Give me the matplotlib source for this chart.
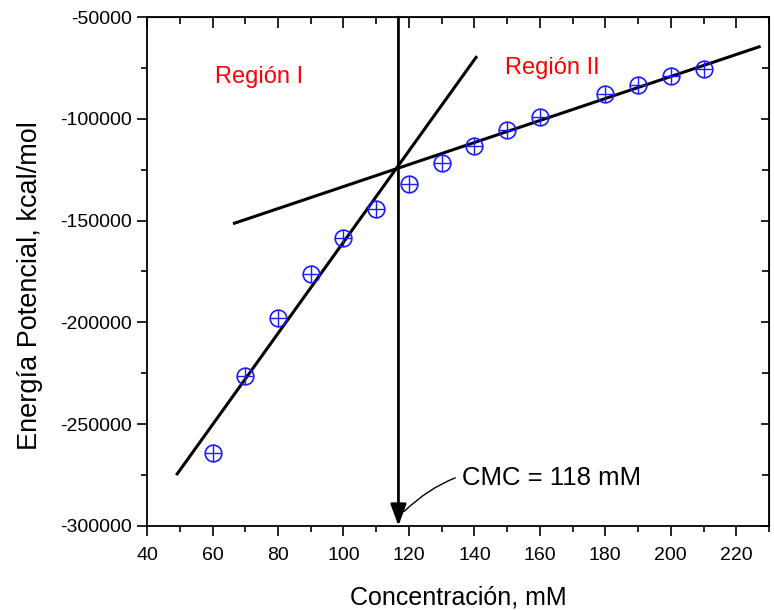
import matplotlib
matplotlib.use("Agg")
import matplotlib.pyplot as plt
from matplotlib.ticker import MultipleLocator

plt.rcParams['font.family'] = ['Liberation Sans', 'DejaVu Sans']
plt.rcParams['axes.unicode_minus'] = False

# data
conc = [60, 70, 80, 90, 100, 110, 120, 130, 140, 150, 160, 180, 190, 200, 210]
energy = [-264000, -226300, -197700, -176200, -158400, -144300, -132000, -121900,
          -113200, -105700, -99000, -87700, -83300, -78800, -75500]

# fitted lines (end points)
fit1_x = [49.2, 140.5]
fit1_y = [-274500, -69800]
fit2_x = [66.7, 227.0]
fit2_y = [-151300, -64600]

cmc_x = 116.8
cmc_label = "CMC = 118 mM"

XLIM = (40, 230)
YLIM = (-300000, -50000)

fig = plt.figure(figsize=(7.74, 6.10), dpi=100)
ax = fig.add_axes([0.190, 0.138, 0.8035, 0.834])

ax.plot(fit1_x, fit1_y, color='black', lw=2.2, zorder=2)
ax.plot(fit2_x, fit2_y, color='black', lw=2.2, zorder=2)

ax.plot(conc, energy, ls='none', marker='o', ms=12, mfc='none', mec='#1a1aff', mew=1.2, zorder=3)
ax.plot(conc, energy, ls='none', marker='+', ms=12, mec='#1a1aff', mew=1.0, zorder=3)

# vertical CMC arrow
ax.annotate('', xy=(cmc_x, YLIM[0]), xytext=(cmc_x, YLIM[1]),
            arrowprops=dict(arrowstyle='-|>,head_length=0.65,head_width=0.24', color='black',
                            lw=2, shrinkA=0, shrinkB=0, mutation_scale=20),
            zorder=4, annotation_clip=False)

ax.annotate(cmc_label, xy=(118.5, -293000), xytext=(136.2, -276400),
            fontsize=18.5, va='center', ha='left',
            arrowprops=dict(arrowstyle='-', color='black', lw=1,
                            connectionstyle='arc3,rad=0.3', shrinkA=3, shrinkB=0))

ax.text(60.8, -79500, "Región I", color='red', fontsize=17, va='center', ha='left')
ax.text(149.4, -75000, "Región II", color='red', fontsize=17, va='center', ha='left')

ax.set_xlim(*XLIM)
ax.set_ylim(*YLIM)
ax.xaxis.set_major_locator(MultipleLocator(20))
ax.xaxis.set_minor_locator(MultipleLocator(10))
ax.yaxis.set_major_locator(MultipleLocator(50000))
ax.yaxis.set_minor_locator(MultipleLocator(25000))
ax.tick_params(which='major', direction='out', length=7, width=1.2, labelsize=14, pad=4)
ax.tick_params(axis='x', which='major', pad=8)
ax.tick_params(which='minor', direction='out', length=4, width=1.2)

for s in ax.spines.values():
    s.set_linewidth(1.3)

# inward ticks on top and right
top = ax.secondary_xaxis('top')
top.xaxis.set_major_locator(MultipleLocator(20))
top.xaxis.set_minor_locator(MultipleLocator(10))
top.tick_params(which='major', direction='in', length=8, width=1.2, labeltop=False)
top.tick_params(which='minor', direction='in', length=5, width=1.2)
right = ax.secondary_yaxis('right')
right.yaxis.set_major_locator(MultipleLocator(50000))
right.yaxis.set_minor_locator(MultipleLocator(25000))
right.tick_params(which='major', direction='in', length=6, width=1.2, labelright=False)
right.tick_params(which='minor', direction='in', length=5, width=1.2)

ax.set_xlabel("Concentración, mM", fontsize=18, labelpad=16)
ax.set_ylabel("Energía Potencial, kcal/mol", fontsize=19.5)
ax.yaxis.set_label_coords(-0.168, 0.4715)

fig.savefig("out.png", dpi=100)
